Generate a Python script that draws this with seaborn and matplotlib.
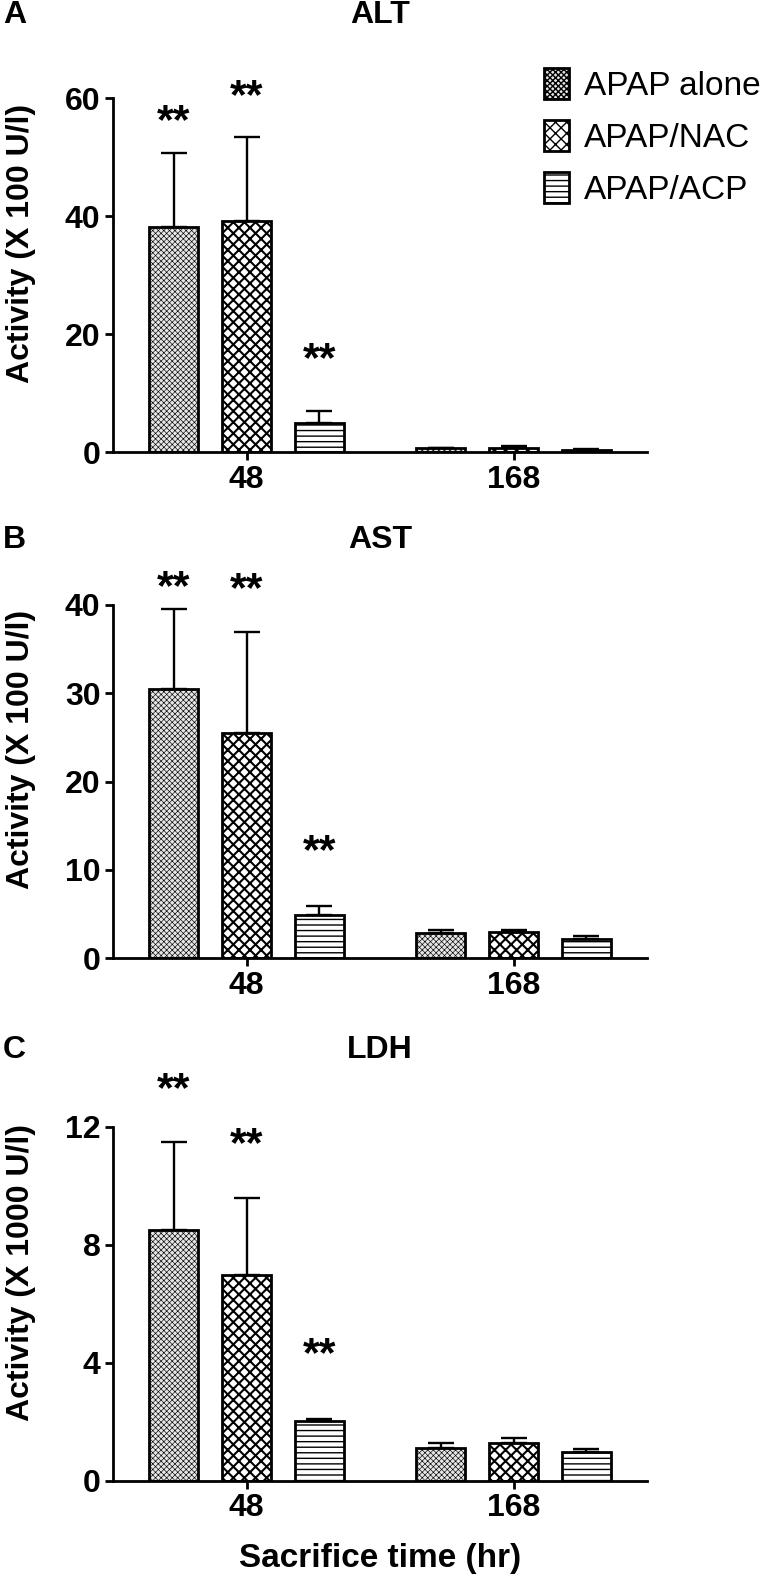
"""
Liver enzyme activity after APAP treatment, three stacked panels (ALT, AST, LDH).
"""

import matplotlib
matplotlib.use("Agg")
import matplotlib.pyplot as plt
import numpy as np
import pandas as pd
import seaborn as sns

# --- data ------------------------------------------------------------------
TIMES = ["48", "168"]
GROUPS = ["APAP alone", "APAP/NAC", "APAP/ACP"]

# mean and upper SD, ordered [48 hr, 168 hr] for each group
ALT_MEAN = {"APAP alone": [38.1, 0.6], "APAP/NAC": [39.2, 0.7], "APAP/ACP": [5.0, 0.4]}
ALT_SD = {"APAP alone": [12.6, 0.1], "APAP/NAC": [14.2, 0.3], "APAP/ACP": [2.0, 0.1]}
AST_MEAN = {"APAP alone": [30.5, 2.8], "APAP/NAC": [25.5, 2.9], "APAP/ACP": [4.9, 2.2]}
AST_SD = {"APAP alone": [9.1, 0.4], "APAP/NAC": [11.4, 0.3], "APAP/ACP": [1.0, 0.3]}
LDH_MEAN = {"APAP alone": [8.5, 1.12], "APAP/NAC": [7.0, 1.29], "APAP/ACP": [2.03, 1.0]}
LDH_SD = {"APAP alone": [3.0, 0.17], "APAP/NAC": [2.6, 0.17], "APAP/ACP": [0.08, 0.08]}

# height (data units) of the "**" marks over the 48 hr bars
ALT_STARS = [55.9, 60.2, 15.5]
AST_STARS = [41.9, 41.7, 12.0]
LDH_STARS = [13.25, 11.4, 4.27]

PANELS = [
    ("A", "ALT", ALT_MEAN, ALT_SD, ALT_STARS, "Activity (X 100 U/l)", [0, 20, 40, 60]),
    ("B", "AST", AST_MEAN, AST_SD, AST_STARS, "Activity (X 100 U/l)", [0, 10, 20, 30, 40]),
    ("C", "LDH", LDH_MEAN, LDH_SD, LDH_STARS, "Activity (X 1000 U/l)", [0, 4, 8, 12]),
]

HATCHES = {"APAP alone": "xxxxxx", "APAP/NAC": "xxx", "APAP/ACP": "---"}
HATCH_LW = {"APAP alone": 0.45, "APAP/NAC": 1.5, "APAP/ACP": 1.0}
FACES = {"APAP alone": "#e6e6e6", "APAP/NAC": "white", "APAP/ACP": "white"}

sns.set_theme(style="ticks")
plt.rcParams["font.family"] = ["Liberation Sans", "DejaVu Sans"]
plt.rcParams.update({"text.color": "black", "axes.labelcolor": "black",
                     "xtick.color": "black", "ytick.color": "black",
                     "hatch.linewidth": 1.0})

W, H = 767, 1577
fig = plt.figure(figsize=(W / 100, H / 100), dpi=100)

# axes boxes in pixel coords: (top, bottom)
boxes = [(98, 452), (605, 958), (1127, 1481)]
title_y = [15, 540, 1050]
AX_L, AX_R = 113, 647


def long_frame(mean, sd):
    rows = []
    for g in GROUPS:
        for t, m, s in zip(TIMES, mean[g], sd[g]):
            rows.append({"time": t, "group": g, "mean": m, "sd": s})
    return pd.DataFrame(rows)


for i, (letter, title, mean, sd, stars, ylabel, yticks) in enumerate(PANELS):
    top, bot = boxes[i]
    ax = fig.add_axes([AX_L / W, 1 - bot / H, (AX_R - AX_L) / W, (bot - top) / H])
    df = long_frame(mean, sd)

    sns.barplot(data=df, x="time", y="mean", hue="group", order=TIMES,
                hue_order=GROUPS, errorbar=None, width=0.82, gap=0.32,
                palette=[FACES[g] for g in GROUPS], edgecolor="black",
                linewidth=2.0, saturation=1, legend=False, ax=ax)

    for g, cont in zip(GROUPS, ax.containers):
        sub = df[df["group"] == g]
        xs, ys = [], []
        for p in cont.patches:
            p.set_hatch(HATCHES[g])
            if hasattr(p, "set_hatch_linewidth"):
                p.set_hatch_linewidth(HATCH_LW[g])
            xs.append(p.get_x() + p.get_width() / 2)
            ys.append(p.get_height())
        ax.errorbar(xs, ys, yerr=[np.zeros(len(sub)), sub["sd"].values],
                    fmt="none", ecolor="black", elinewidth=1.7, capsize=9.5,
                    capthick=1.7, zorder=1)
        # significance marks above the 48 hr bar
        ax.text(xs[0], stars[GROUPS.index(g)], "**", ha="center", va="center",
                fontsize=31, fontweight="bold", color="black")

    ax.set_xlim(-0.5, 1.5)
    ax.set_ylim(yticks[0], yticks[-1])
    ax.set_yticks(yticks)
    ax.set_xlabel("")
    ax.set_ylabel(ylabel, fontsize=23, fontweight="bold", va="center")
    ax.yaxis.set_label_coords(-0.172, 0.59)
    sns.despine(ax=ax)
    for s in ("left", "bottom"):
        ax.spines[s].set_linewidth(2.0)
        ax.spines[s].set_color("black")
    ax.tick_params(axis="both", direction="out", length=6, width=2.0,
                   color="black", labelsize=23, pad=3)
    for lab in ax.get_xticklabels() + ax.get_yticklabels():
        lab.set_fontweight("bold")

    fig.text(3 / W, 1 - title_y[i] / H, letter, ha="left", va="center",
             fontsize=23, fontweight="bold")
    fig.text((AX_L + AX_R) / 2 / W, 1 - title_y[i] / H, title, ha="center",
             va="center", fontsize=23, fontweight="bold")

    if i == 0:
        ax.legend(ax.containers, GROUPS, loc="upper left",
                  bbox_to_anchor=(0.807, 1.085), frameon=False, fontsize=24,
                  handlelength=0.75, handleheight=1.05, handletextpad=0.45,
                  labelspacing=0.55, borderpad=0, borderaxespad=0)
    if i == 2:
        ax.set_xlabel("Sacrifice time (hr)", fontsize=24, fontweight="bold",
                      labelpad=14)

fig.savefig("out.png", dpi=100)
